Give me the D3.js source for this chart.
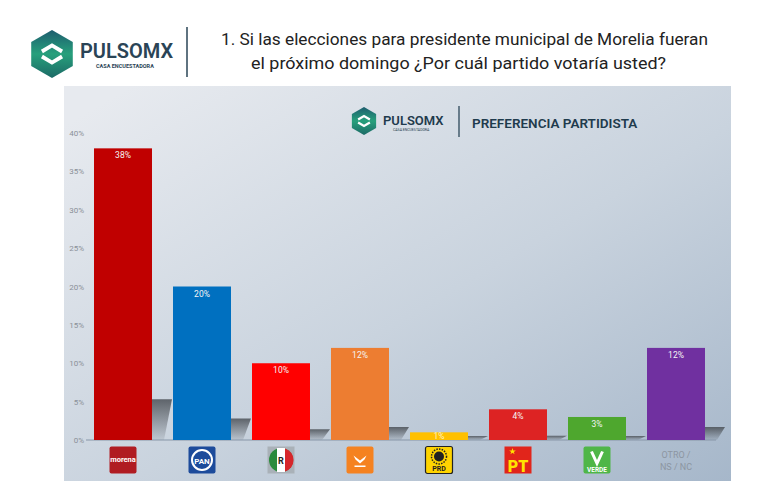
<!DOCTYPE html>
<html>
<head>
<meta charset="utf-8">
<script src="https://cdn.jsdelivr.net/npm/d3@7"></script>
<style>
  body { margin: 0; background: #fff; }
  svg { display: block; font-family: Roboto, "Open Sans", sans-serif; }
</style>
</head>
<body>
<svg id="chart" width="768" height="502"></svg>
<script>
const parties = ["morena", "PAN", "PRI", "MC", "PRD", "PT", "VERDE", "OTRO"];
const values = [38, 20, 10, 12, 1, 4, 3, 12];
const colors = ["#c00000", "#0070c0", "#ff0000", "#ed7d31", "#ffc000", "#dd2323", "#4ea72e", "#7030a0"];
const yTicks = [0, 5, 10, 15, 20, 25, 30, 35, 40];

const svg = d3.select("#chart");
const defs = svg.append("defs");

// panel background gradient
const bg = defs.append("linearGradient").attr("id", "bg")
  .attr("x1", 0).attr("y1", 0).attr("x2", 1).attr("y2", 1);
bg.append("stop").attr("offset", "0.05").attr("stop-color", "#e7eaef");
bg.append("stop").attr("offset", "0.55").attr("stop-color", "#c9d3de");
bg.append("stop").attr("offset", "1").attr("stop-color", "#a6b7ca");

const sh = defs.append("linearGradient").attr("id", "shadow")
  .attr("x1", 0).attr("y1", 0).attr("x2", 0).attr("y2", 1);
sh.append("stop").attr("offset", "0").attr("stop-color", "#4a4f55").attr("stop-opacity", 0.85);
sh.append("stop").attr("offset", "1").attr("stop-color", "#4a4f55").attr("stop-opacity", 0.1);

const logoGrad = defs.append("linearGradient").attr("id", "logo")
  .attr("x1", 0).attr("y1", 0).attr("x2", 0).attr("y2", 1);
logoGrad.append("stop").attr("offset", "0").attr("stop-color", "#1e5d6e");
logoGrad.append("stop").attr("offset", "0.5").attr("stop-color", "#27a07c");
logoGrad.append("stop").attr("offset", "1").attr("stop-color", "#1c6a66");

function drawLogo(g, cx, cy, r) {
  const pts = d3.range(6).map(i => {
    const a = Math.PI / 3 * i - Math.PI / 2;
    return [cx + r * Math.cos(a), cy + r * Math.sin(a)];
  });
  g.append("polygon").attr("points", pts.join(" ")).attr("fill", "url(#logo)");
  const s = r * 0.42;
  g.append("path")
    .attr("d", `M${cx - s},${cy - s * 0.25} L${cx},${cy - s * 0.85} L${cx + s},${cy - s * 0.25}
                M${cx - s},${cy + s * 0.25} L${cx},${cy + s * 0.85} L${cx + s},${cy + s * 0.25}`)
    .attr("fill", "none").attr("stroke", "#fff").attr("stroke-width", r * 0.16);
}

// header
drawLogo(svg.append("g"), 52, 54, 24);
svg.append("text").attr("x", 80).attr("y", 58).attr("font-size", 20).attr("font-weight", 600)
  .attr("fill", "#2a4456").text("PULSOMX");
svg.append("text").attr("x", 96).attr("y", 68).attr("font-size", 5.5).attr("font-weight", 700)
  .attr("fill", "#2a4456").text("CASA ENCUESTADORA");
svg.append("line").attr("x1", 187).attr("x2", 187).attr("y1", 27).attr("y2", 77)
  .attr("stroke", "#2a4456").attr("stroke-width", 1.5);
svg.append("text").attr("x", 221).attr("y", 45)
  .attr("font-size", 17).attr("fill", "#222")
  .attr("textLength", 487).attr("lengthAdjust", "spacingAndGlyphs")
  .text("1. Si las elecciones para presidente municipal de Morelia fueran");
svg.append("text").attr("x", 251).attr("y", 69)
  .attr("font-size", 17).attr("fill", "#222")
  .attr("textLength", 415).attr("lengthAdjust", "spacingAndGlyphs")
  .text("el próximo domingo ¿Por cuál partido votaría usted?");

// panel
svg.append("rect").attr("x", 64).attr("y", 86).attr("width", 667).attr("height", 395)
  .attr("fill", "url(#bg)");

// panel header
drawLogo(svg.append("g"), 364, 121, 14);
svg.append("text").attr("x", 383).attr("y", 125).attr("font-size", 13).attr("font-weight", 600)
  .attr("fill", "#1f3b4d").text("PULSOMX");
svg.append("text").attr("x", 393).attr("y", 131).attr("font-size", 3.5)
  .attr("fill", "#1f3b4d").text("CASA ENCUESTADORA");
svg.append("line").attr("x1", 459).attr("x2", 459).attr("y1", 106).attr("y2", 137)
  .attr("stroke", "#1f3b4d").attr("stroke-width", 1.2);
svg.append("text").attr("x", 472).attr("y", 128).attr("font-size", 13.5).attr("font-weight", 600)
  .attr("fill", "#1f3b4d").text("PREFERENCIA PARTIDISTA");

// scales
const x = d3.scaleBand().domain(parties).range([83.5, 715.5]).paddingInner(0.266).paddingOuter(0.133);
const y = d3.scaleLinear().domain([0, 40]).range([440, 133]);

// y axis
const yAxis = svg.append("g").attr("transform", "translate(85,0)")
  .call(d3.axisLeft(y).tickValues(yTicks).tickFormat(d => d + "%").tickSize(0).tickPadding(1));
yAxis.select(".domain").remove();
yAxis.selectAll("text").attr("font-size", 8).attr("fill", "#8a9098").attr("font-family", "Roboto, sans-serif");

const data = parties.map((p, i) => ({ p, v: values[i], c: colors[i] }));

// shadows
svg.append("g").selectAll("polygon").data(data).join("polygon")
  .attr("points", d => {
    const x1 = x(d.p) + x.bandwidth();
    const h = Math.max(4, (y(0) - y(d.v)) * 0.14);
    const t = y(0) - h;
    return [[x1, t], [x1 + 20, t], [x1 + 12, y(0)], [x1, y(0)]].join(" ");
  })
  .attr("fill", "url(#shadow)");

// baseline
svg.append("line").attr("x1", 86).attr("x2", 716).attr("y1", y(0)).attr("y2", y(0))
  .attr("stroke", "#8796a8").attr("stroke-width", 1);

// bars
svg.append("g").selectAll("rect").data(data).join("rect")
  .attr("x", d => x(d.p)).attr("width", x.bandwidth())
  .attr("y", d => y(d.v)).attr("height", d => y(0) - y(d.v))
  .attr("fill", d => d.c);

svg.append("g").selectAll("text").data(data).join("text")
  .attr("x", d => x(d.p) + x.bandwidth() / 2)
  .attr("y", d => y(d.v) + (d.v < 2 ? 7 : 10))
  .attr("text-anchor", "middle").attr("font-size", 8.5)
  .attr("fill", d => d.p === "PRD" ? "#fff3c0" : "#f4f4f4")
  .text(d => d.v + "%");

// party logos
const logos = svg.append("g");
data.forEach(d => {
  const cx = x(d.p) + x.bandwidth() / 2, cy = 460, s = 27;
  const g = logos.append("g").attr("transform", `translate(${cx - s / 2},${cy - s / 2})`);
  if (d.p === "morena") {
    g.append("rect").attr("width", s).attr("height", s).attr("rx", 2).attr("fill", "#b01c22");
    g.append("text").attr("x", s / 2).attr("y", 15).attr("text-anchor", "middle")
      .attr("font-size", 7.5).attr("font-weight", 700).attr("fill", "#fff").text("morena");
  } else if (d.p === "PAN") {
    g.append("rect").attr("width", s).attr("height", s).attr("rx", 2).attr("fill", "#1d4b9b");
    g.append("circle").attr("cx", s / 2).attr("cy", s / 2).attr("r", 10).attr("fill", "none")
      .attr("stroke", "#fff").attr("stroke-width", 2);
    g.append("text").attr("x", s / 2).attr("y", 17).attr("text-anchor", "middle")
      .attr("font-size", 8).attr("font-weight", 700).attr("fill", "#fff").text("PAN");
  } else if (d.p === "PRI") {
    g.append("rect").attr("width", s).attr("height", s).attr("fill", "#a9b1b8");
    g.append("circle").attr("cx", s / 2).attr("cy", s / 2).attr("r", 12).attr("fill", "#2a8a3c");
    g.append("rect").attr("x", s / 2 - 4).attr("y", 1.5).attr("width", 8).attr("height", 24).attr("fill", "#fff");
    g.append("path").attr("d", `M${s / 2 + 4},2 A12,12 0 0 1 ${s / 2 + 4},25 Z`).attr("fill", "#d6262b");
    g.append("text").attr("x", s / 2).attr("y", 17).attr("text-anchor", "middle")
      .attr("font-size", 9).attr("font-weight", 700).attr("fill", "#222").text("R");
  } else if (d.p === "MC") {
    g.append("rect").attr("width", s).attr("height", s).attr("rx", 2).attr("fill", "#f58220");
    g.append("path").attr("d", "M7,9 L13.5,14 L20,9 L18,13 L13.5,17 L9,13 Z").attr("fill", "#fff");
    g.append("rect").attr("x", 8).attr("y", 19).attr("width", 11).attr("height", 1.5).attr("fill", "#fff");
  } else if (d.p === "PRD") {
    g.append("rect").attr("width", s).attr("height", s).attr("rx", 2).attr("fill", "#ffd400")
      .attr("stroke", "#222").attr("stroke-width", 1.2);
    g.append("circle").attr("cx", s / 2).attr("cy", 10).attr("r", 5).attr("fill", "#222");
    g.append("circle").attr("cx", s / 2).attr("cy", 10).attr("r", 7.5).attr("fill", "none")
      .attr("stroke", "#222").attr("stroke-width", 1.5).attr("stroke-dasharray", "1.5 1.2");
    g.append("text").attr("x", s / 2).attr("y", 24.5).attr("text-anchor", "middle")
      .attr("font-size", 7).attr("font-weight", 700).attr("fill", "#222").text("PRD");
  } else if (d.p === "PT") {
    g.append("rect").attr("width", s).attr("height", s).attr("fill", "#e1251b");
    g.append("text").attr("x", s / 2).attr("y", 25).attr("text-anchor", "middle")
      .attr("font-size", 16).attr("font-weight", 900).attr("fill", "#ffe400").text("PT");
    g.append("path").attr("d", d3.symbol(d3.symbolStar, 14)()).attr("transform", "translate(8,5)")
      .attr("fill", "#ffe400");
  } else if (d.p === "VERDE") {
    g.append("rect").attr("width", s).attr("height", s).attr("rx", 2).attr("fill", "#4fb648");
    g.append("path").attr("d", "M8,5 L13.5,17 L19,5").attr("fill", "none")
      .attr("stroke", "#fff").attr("stroke-width", 3);
    g.append("text").attr("x", s / 2).attr("y", 25).attr("text-anchor", "middle")
      .attr("font-size", 6.5).attr("font-weight", 700).attr("fill", "#fff").text("VERDE");
  } else {
    g.append("text").attr("x", s / 2).attr("y", 11).attr("text-anchor", "middle")
      .attr("font-size", 9).attr("fill", "#8c96a2").text("OTRO /");
    g.append("text").attr("x", s / 2).attr("y", 23).attr("text-anchor", "middle")
      .attr("font-size", 9).attr("fill", "#8c96a2").text("NS / NC");
  }
});
</script>
</body>
</html>
